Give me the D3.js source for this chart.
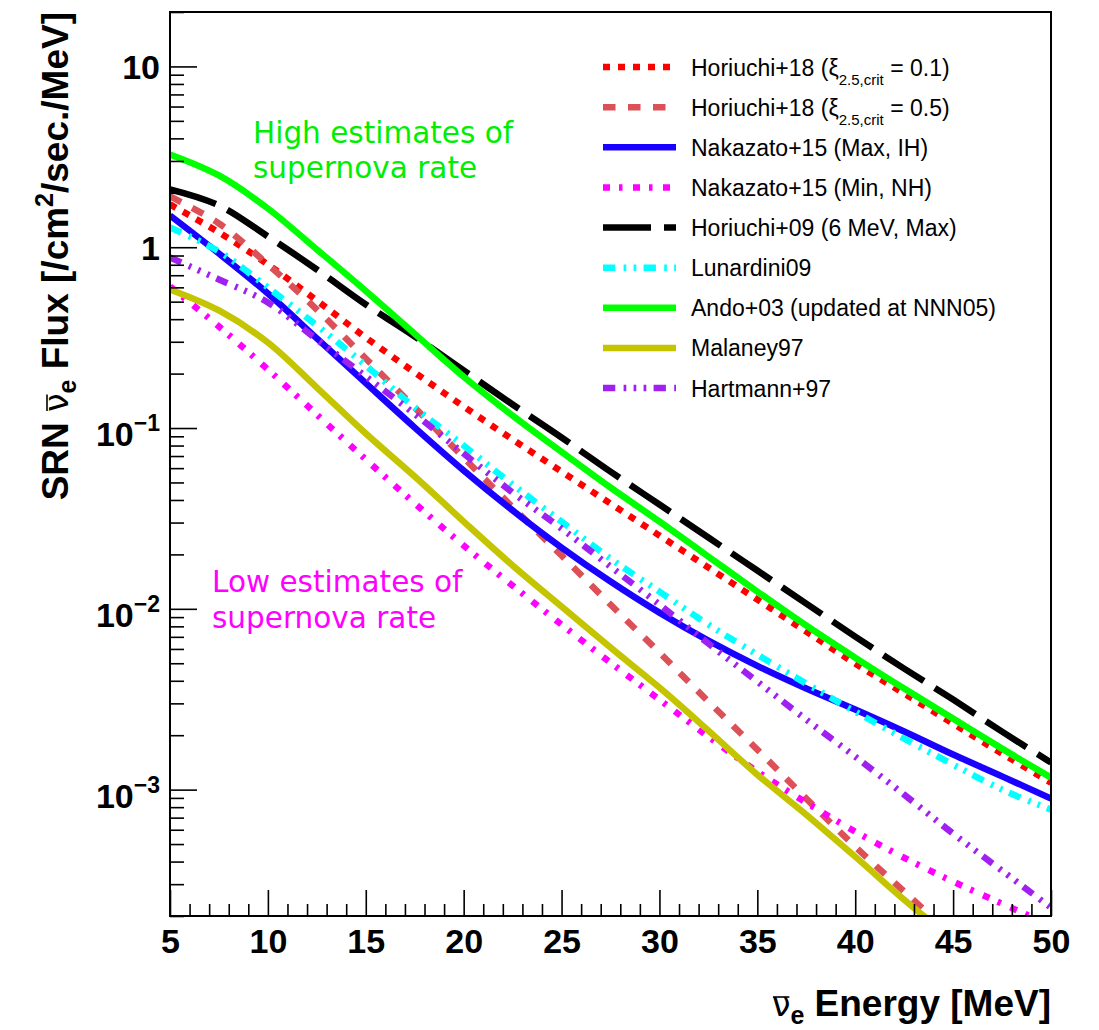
<!DOCTYPE html>
<html>
<head>
<meta charset="utf-8">
<script src="https://cdn.jsdelivr.net/npm/d3@7"></script>
<style>
  body { margin: 0; background: #fff; }
  svg { display: block; }
</style>
</head>
<body>
<svg id="chart" width="1099" height="1030"></svg>
<script>
// Supernova relic neutrino (anti-nu_e) flux predictions, flux in /cm^2/sec/MeV
const energy = [5, 7.5, 10, 12.5, 15, 17.5, 20, 22.5, 25, 27.5, 30, 32.5, 35, 37.5, 40, 42.5, 45, 47.5, 50];

const horiuchi18Xi01 = [1.724, 1.207, 0.8028, 0.5074, 0.3167, 0.2028, 0.1315, 0.0864, 0.0574, 0.0382, 0.02542, 0.01691, 0.01125, 0.00748, 0.00498, 0.003397, 0.002318, 0.001582, 0.001093];
const horiuchi18Xi05 = [1.909, 1.353, 0.8028, 0.4523, 0.2424, 0.1298, 0.0686, 0.0365, 0.01971, 0.01056, 0.00573, 0.003069, 0.001664, 0.000892, 0.000484, 0.000273, 0.0001557, null, null];
const nakazato15MaxIH = [1.498, 0.9231, 0.5546, 0.3135, 0.1772, 0.1006, 0.05825, 0.03502, 0.02182, 0.01416, 0.00953, 0.00667, 0.00484, 0.003629, 0.002773, 0.002096, 0.001563, 0.001184, 0.000892];
const nakazato15MinNH = [0.6066, 0.3642, 0.2107, 0.1187, 0.06706, 0.03832, 0.02238, 0.01344, 0.00818, 0.005041, 0.003147, 0.001965, 0.001258, 0.000848, 0.000586, 0.00042, 0.00031, 0.000234, 0.000177];
const horiuchi09 = [2.087, 1.702, 1.147, 0.753, 0.4824, 0.3208, 0.208, 0.1349, 0.0886, 0.0574, 0.03774, 0.02479, 0.01628, 0.01069, 0.00702, 0.00467, 0.003147, 0.002093, 0.001411];
const lunardini09 = [1.286, 0.9474, 0.5989, 0.3691, 0.2218, 0.1298, 0.08, 0.04868, 0.03039, 0.01897, 0.01245, 0.00818, 0.00558, 0.003859, 0.0027, 0.001916, 0.001375, 0.001, 0.000775];
const ando03 = [3.26, 2.494, 1.638, 0.9721, 0.5732, 0.3319, 0.1922, 0.1172, 0.0739, 0.0469, 0.0304, 0.01946, 0.01246, 0.00808, 0.00537, 0.00362, 0.00247, 0.001686, 0.001165];
const malaney97 = [0.584, 0.4468, 0.2972, 0.1675, 0.09324, 0.05391, 0.03039, 0.01737, 0.01029, 0.006104, 0.003667, 0.00212, 0.00121, 0.000727, 0.000426, 0.000246, 0.000148, null, null];
const hartmann97 = [0.8776, 0.6632, 0.4948, 0.3088, 0.1929, 0.1195, 0.07228, 0.04396, 0.0278, 0.01713, 0.01056, 0.006424, 0.003958, 0.002439, 0.001522, 0.000938, 0.000571, 0.000356, 0.0002225];

// Legend entries (the part inside _{...} is drawn as a subscript)
const modelNames = [
  "Horiuchi+18 (ξ_{2.5,crit} = 0.1)",
  "Horiuchi+18 (ξ_{2.5,crit} = 0.5)",
  "Nakazato+15 (Max, IH)",
  "Nakazato+15 (Min, NH)",
  "Horiuchi+09 (6 MeV, Max)",
  "Lunardini09",
  "Ando+03 (updated at NNN05)",
  "Malaney97",
  "Hartmann+97"
];
const modelValues = [horiuchi18Xi01, horiuchi18Xi05, nakazato15MaxIH, nakazato15MinNH, horiuchi09, lunardini09, ando03, malaney97, hartmann97];

const xTickValues = [5, 10, 15, 20, 25, 30, 35, 40, 45, 50];
const yDecadeValues = [1e-3, 1e-2, 1e-1, 1, 10];
const yDecadeLabels = [["10", "−3"], ["10", "−2"], ["10", "−1"], ["1", ""], ["10", ""]];

// Line styles, one per model, in legend order
const lineStyles = [
  { color: "#ff0000", dash: "7 8" },
  { color: "#dc5058", dash: "12.5 12.5" },
  { color: "#1a00ff", dash: null },
  { color: "#ff00ff", dash: "7 9 3.5 10.5" },
  { color: "#000000", dash: "48 13" },
  { color: "#00ffff", dash: "12.3 8.3 2.7 7.3 2.7 7.3" },
  { color: "#00ff00", dash: null },
  { color: "#c4c400", dash: null },
  { color: "#a020f0", dash: "12.3 8.3 2.7 7.3 2.7 7.3 2.7 7.3" }
];

const frame = { left: 170, right: 1051, top: 12, bottom: 916 };
const LW = 6.5;
const boldFont = "'Liberation Sans', Arial, Helvetica, sans-serif";
const greekFont = "'DejaVu Sans', 'Liberation Sans', sans-serif";

const svg = d3.select("#chart");

const x = d3.scaleLinear().domain([5, 50]).range([frame.left, frame.right]);
const y = d3.scaleLog().domain([2e-4, 20]).range([frame.bottom, frame.top]);

svg.append("defs").append("clipPath").attr("id", "plot-clip")
  .append("rect")
  .attr("x", frame.left).attr("y", frame.top)
  .attr("width", frame.right - frame.left).attr("height", frame.bottom - frame.top);

// ---- curves ----
const line = d3.line()
  .defined(d => d[1] != null)
  .x(d => x(d[0]))
  .y(d => y(d[1]))
  .curve(d3.curveCatmullRom.alpha(0.5));

const curves = svg.append("g").attr("clip-path", "url(#plot-clip)");
modelValues.forEach((vals, i) => {
  const pts = energy.map((e, k) => [e, vals[k]]);
  curves.append("path")
    .attr("d", line(pts))
    .attr("fill", "none")
    .attr("stroke", lineStyles[i].color)
    .attr("stroke-width", LW)
    .attr("stroke-dasharray", lineStyles[i].dash)
    .attr("stroke-linecap", "butt")
    .attr("stroke-linejoin", "round");
});

// ---- axes (ticks pointing into the frame) ----
const xMinor = d3.range(5, 51, 1).filter(v => v % 5 !== 0);
const xAxisMajor = d3.axisBottom(x).tickValues(xTickValues).tickSize(-26).tickPadding(13).tickFormat(d3.format("d"));
const xAxisMinor = d3.axisBottom(x).tickValues(xMinor).tickSize(-12).tickFormat("");

const gxMinor = svg.append("g").attr("transform", `translate(0,${frame.bottom})`).call(xAxisMinor);
const gx = svg.append("g").attr("transform", `translate(0,${frame.bottom})`).call(xAxisMajor);

const yMinor = [];
[1e-4, 1e-3, 1e-2, 1e-1, 1, 10].forEach(dec => {
  for (let m = 2; m <= 9; m++) {
    const v = m * dec;
    if (v >= 2e-4 && v <= 20) yMinor.push(v);
  }
});
const yAxisMajor = d3.axisLeft(y).tickValues(yDecadeValues).tickSize(-27).tickFormat("");
const yAxisMinor = d3.axisLeft(y).tickValues(yMinor).tickSize(-14).tickFormat("");
const gyMinor = svg.append("g").attr("transform", `translate(${frame.left},0)`).call(yAxisMinor);
const gy = svg.append("g").attr("transform", `translate(${frame.left},0)`).call(yAxisMajor);

[gx, gxMinor, gy, gyMinor].forEach(g => {
  g.select(".domain").remove();
  g.selectAll(".tick line").attr("stroke", "#000").attr("stroke-width", 1.6);
});
gx.selectAll(".tick text")
  .attr("fill", "#000")
  .style("font-family", boldFont)
  .style("font-weight", "bold")
  .style("font-size", "34px");

// y decade labels with exponents
const yLabels = svg.append("g");
yDecadeValues.forEach((v, i) => {
  const [base, exp] = yDecadeLabels[i];
  const t = yLabels.append("text")
    .attr("x", 160)
    .attr("text-anchor", "end")
    .attr("fill", "#000")
    .style("font-family", boldFont)
    .style("font-weight", "bold")
    .style("font-size", "34px");
  if (exp) {
    t.attr("y", y(v) + 18);
    t.append("tspan").text(base);
    t.append("tspan").attr("dy", -15).style("font-size", "23px").text(exp);
  } else {
    t.attr("y", y(v) + 13).text(base);
  }
});

// frame
svg.append("rect")
  .attr("x", frame.left).attr("y", frame.top)
  .attr("width", frame.right - frame.left).attr("height", frame.bottom - frame.top)
  .attr("fill", "none").attr("stroke", "#000").attr("stroke-width", 2);

// ---- axis titles ----
// x title: anti-nu_e Energy [MeV]
const xTitle = svg.append("text")
  .attr("x", frame.right).attr("y", 1016)
  .attr("text-anchor", "end")
  .attr("fill", "#000")
  .style("font-family", boldFont)
  .style("font-weight", "bold")
  .style("font-size", "37px");
xTitle.append("tspan").style("font-family", greekFont).style("font-weight", "normal").style("font-size", "33px").text("ν");
xTitle.append("tspan").attr("dy", 8).style("font-size", "25px").text("e");
xTitle.append("tspan").attr("dy", -8).text(" Energy [MeV]");
{
  const ext = xTitle.node().getExtentOfChar(0);
  svg.append("line")
    .attr("x1", ext.x + 1).attr("x2", ext.x + ext.width - 1)
    .attr("y1", 997).attr("y2", 997)
    .attr("stroke", "#000").attr("stroke-width", 1.6);
}

// y title (rotated)
const yTitleG = svg.append("g").attr("transform", `translate(68,${frame.top}) rotate(-90)`);
const yTitle = yTitleG.append("text")
  .attr("x", 0).attr("y", 0)
  .attr("text-anchor", "end")
  .attr("fill", "#000")
  .style("font-family", boldFont)
  .style("font-weight", "bold")
  .style("font-size", "37px");
yTitle.append("tspan").text("SRN ");
yTitle.append("tspan").style("font-family", greekFont).style("font-weight", "normal").style("font-size", "33px").text("ν");
yTitle.append("tspan").attr("dy", 8).style("font-size", "25px").text("e");
yTitle.append("tspan").attr("dy", -8).text(" Flux [/cm");
yTitle.append("tspan").attr("dy", -15).style("font-size", "25px").text("2");
yTitle.append("tspan").attr("dy", 15).text("/sec./MeV]");
{
  const ext = yTitle.node().getExtentOfChar(4);
  yTitleG.append("line")
    .attr("x1", ext.x + 1).attr("x2", ext.x + ext.width - 1)
    .attr("y1", -21).attr("y2", -21)
    .attr("stroke", "#000").attr("stroke-width", 1.6);
}

// ---- annotations ----
const annoFont = "'DejaVu Sans', Verdana, sans-serif";
const high = svg.append("text")
  .attr("fill", "#00ee00")
  .style("font-family", annoFont)
  .style("font-size", "29.5px");
high.append("tspan").attr("x", 253).attr("y", 143).text("High estimates of");
high.append("tspan").attr("x", 253).attr("y", 178).text("supernova rate");

const low = svg.append("text")
  .attr("fill", "#ff00ff")
  .style("font-family", annoFont)
  .style("font-size", "29.5px");
low.append("tspan").attr("x", 212).attr("y", 592).text("Low estimates of");
low.append("tspan").attr("x", 212).attr("y", 628).text("supernova rate");

// ---- legend ----
const legend = svg.append("g");
const rowY = d3.scaleLinear().domain([0, 8]).range([67, 388]);
modelNames.forEach((name, i) => {
  const cy = rowY(i);
  legend.append("line")
    .attr("x1", 603).attr("x2", 676)
    .attr("y1", cy).attr("y2", cy)
    .attr("stroke", lineStyles[i].color)
    .attr("stroke-width", LW)
    .attr("stroke-dasharray", lineStyles[i].dash);
  const t = legend.append("text")
    .attr("x", 691).attr("y", cy + 8.5)
    .attr("fill", "#000")
    .style("font-family", boldFont)
    .style("font-size", "23px");
  const m = name.match(/^(.*)_\{(.*)\}(.*)$/);
  if (m) {
    t.append("tspan").text(m[1]);
    t.append("tspan").attr("dy", 9).style("font-size", "15px").text(m[2]);
    t.append("tspan").attr("dy", -9).text(m[3]);
  } else {
    t.text(name);
  }
});
</script>
</body>
</html>
